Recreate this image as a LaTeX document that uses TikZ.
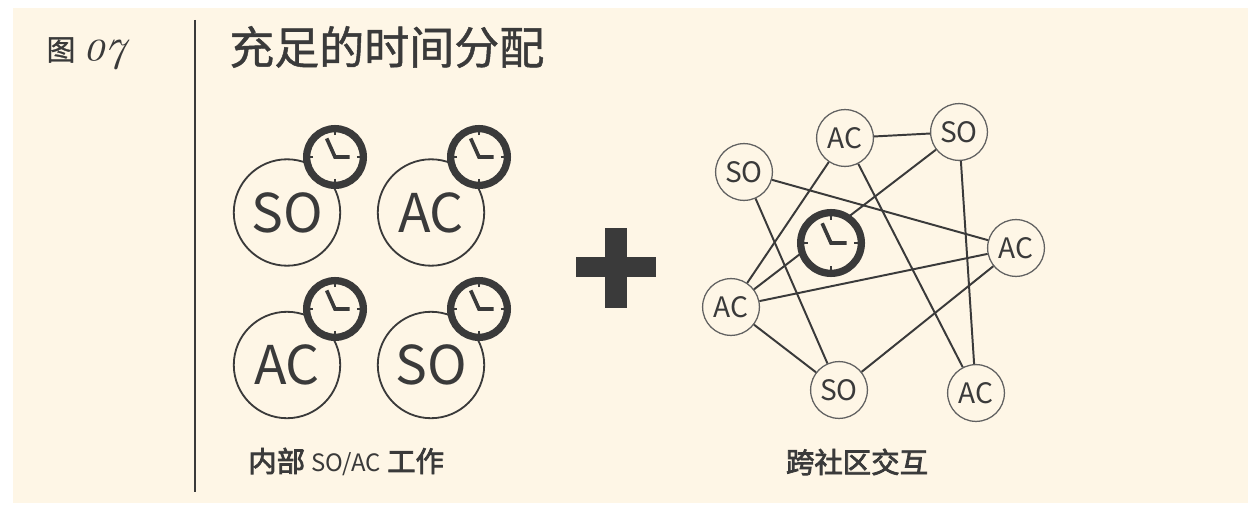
\documentclass[tikz,border=0pt]{standalone}
\usepackage{fontspec}
\setmainfont{Noto Sans CJK SC}
\newfontfamily\numfont[Numbers=OldStyle,AutoFakeBold=1.5]{Latin Modern Roman}
\newfontfamily\titlefont[FakeBold=1]{Noto Sans CJK SC}
\newfontfamily\capfont[FakeBold=2.6]{Noto Sans CJK SC}
\definecolor{paper}{HTML}{FEF6E6}
\definecolor{ink}{HTML}{3A3A3A}
\tikzset{
  bigmember/.style={circle,draw=ink,line width=1.3pt,minimum size=2.66cm,inner sep=0pt,text=ink,font=\fontsize{38}{38}\selectfont},
  member/.style={circle,draw=ink!80,line width=0.9pt,fill=paper,minimum size=1.42cm,inner sep=0pt,text=ink,font=\fontsize{20}{20}\selectfont},
  clockring/.style={circle,draw=ink,line width=5.2pt,fill=paper,inner sep=0pt},
  link/.style={draw=ink,line width=1.4pt},
  caption/.style={text=ink,font=\fontsize{20.2}{20.2}\selectfont\capfont},
}
\newcommand{\clockface}[3]{
  \begin{scope}[shift={(#2)}]
    \node[clockring,minimum size=#3*0.05cm-5.2pt](#1) at(0,0){};
    \draw[ink,line width=2.6pt](-#3*0.26,-#3*0.58)--(0,0)--(#3*0.46,0);
    \foreach \a in {0,90,180,270}
      \draw[ink,line width=0.9pt](\a:#3*0.68)--(\a:#3*0.95);
  \end{scope}
}
\begin{document}
\begin{tikzpicture}[x=0.025cm,y=-0.025cm]
  \useasboundingbox(0,0)rectangle(1248,505);
  \fill[paper](13,8)rectangle(1248,503);
  \coordinate(ruletop) at(195,20);
  \coordinate(rulebot) at(195,492);
  \draw[ink,line width=1.3pt](ruletop)--(rulebot);
  \node[text=ink,font=\fontsize{20.5}{20.5}\selectfont\titlefont](fig) at(61,50){图};
  \node[text=ink,font=\fontsize{31}{31}\selectfont\numfont\bfseries\itshape](fignum) at(105,55){07};
  \node[text=ink,font=\fontsize{32}{32}\selectfont\titlefont,anchor=west,inner sep=0pt](title) at(229,47){充足的时间分配};
  % internal work
  \node[bigmember](so1) at(287,212.5){SO};
  \node[bigmember](ac1) at(431,212.5){AC};
  \node[bigmember](ac2) at(287,365){AC};
  \node[bigmember](so2) at(431,365){SO};
  \clockface{clock1}{335,157}{32}
  \clockface{clock2}{479,157}{32}
  \clockface{clock3}{335,309}{32}
  \clockface{clock4}{479,309}{32}
  \node[caption,anchor=west,inner sep=0pt](work) at(248,462){内部 {\normalfont\fontsize{17}{17}\selectfont SO/AC} 工作};
  % plus
  \draw[ink,line width=14.5pt](576,267)--(656,267);
  \draw[ink,line width=15.5pt](616,228)--(616,308);
  % community
  \node[member](a) at(744,172){SO};
  \node[member](b) at(845,138){AC};
  \node[member](c) at(959,132){SO};
  \node[member](d) at(1016,248){AC};
  \node[member](e) at(731,307){AC};
  \node[member](f) at(839,390){SO};
  \node[member](g) at(976,393){AC};
  \draw[link](b)--(c);
  \draw[link](b)--(e);
  \draw[link](b)--(g);
  \draw[link](c)--(e);
  \draw[link](c)--(g);
  \draw[link](a)--(d);
  \draw[link](a)--(f);
  \draw[link](e)--(d);
  \draw[link](e)--(f);
  \draw[link](d)--(f);
  \clockface{clock5}{831,243}{34}
  \node[caption](cross) at(857,462){跨社区交互};
\end{tikzpicture}
\end{document}
